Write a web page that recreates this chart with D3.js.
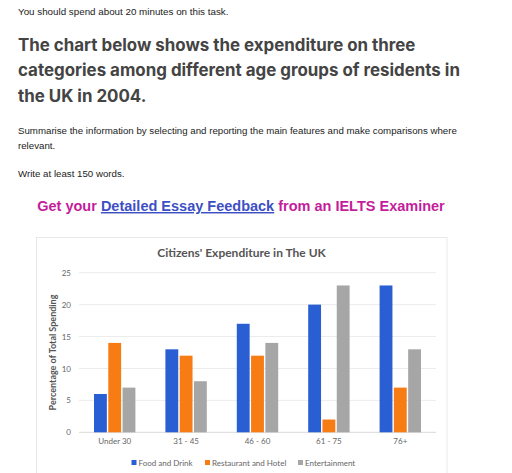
<!DOCTYPE html>
<html>
<head>
<meta charset="utf-8">
<script src="https://cdn.jsdelivr.net/npm/d3@7"></script>
<style>
  body { margin: 0; background: #fff; }
  svg { display: block; }
</style>
</head>
<body>
<svg id="page" width="512" height="473"></svg>
<script>
// chart values
const groups = ["Under 30", "31 - 45", "46 - 60", "61 - 75", "76+"];
const seriesNames = ["Food and Drink", "Restaurant and Hotel", "Entertainment"];
const foodDrink = [6, 13, 17, 20, 23];
const restaurantHotel = [14, 12, 12, 2, 7];
const entertainment = [7, 8, 14, 23, 13];
const yTicks = [0, 5, 10, 15, 20, 25];

const colors = ["#2a5fd4", "#f87c14", "#a6a6a6"];
const series = [foodDrink, restaurantHotel, entertainment];

const svg = d3.select("#page");

// ---- page text above the chart ----
const sans = "Liberation Sans, Arial, sans-serif";

svg.append("text")
  .attr("x", 18).attr("y", 14.5)
  .attr("font-family", sans).attr("font-size", 9.8).attr("fill", "#222")
  .text("You should spend about 20 minutes on this task.");

const heading = [
  "The chart below shows the expenditure on three",
  "categories among different age groups of residents in",
  "the UK in 2004."
];
svg.append("g").selectAll("text")
  .data(heading)
  .join("text")
  .attr("x", 18)
  .attr("y", (d, i) => 51 + i * 25.3)
  .attr("font-family", "Inter, Open Sans, sans-serif")
  .attr("font-weight", 700)
  .attr("font-size", 16.9)
  .attr("fill", "#444")
  .text(d => d);

svg.append("text")
  .attr("x", 18).attr("y", 133.5)
  .attr("font-family", sans).attr("font-size", 9.7).attr("fill", "#222")
  .text("Summarise the information by selecting and reporting the main features and make comparisons where");
svg.append("text")
  .attr("x", 18).attr("y", 148.5)
  .attr("font-family", sans).attr("font-size", 9.7).attr("fill", "#222")
  .text("relevant.");
svg.append("text")
  .attr("x", 18).attr("y", 177)
  .attr("font-family", sans).attr("font-size", 9.7).attr("fill", "#222")
  .text("Write at least 150 words.");

const promo = svg.append("text")
  .attr("x", 241).attr("y", 211)
  .attr("text-anchor", "middle")
  .attr("font-family", sans).attr("font-weight", 700).attr("font-size", 14.5)
  .attr("fill", "#c41d9c");
promo.append("tspan").text("Get your ");
promo.append("tspan").attr("fill", "#3d4fc4").attr("text-decoration", "underline")
  .text("Detailed Essay Feedback");
promo.append("tspan").text(" from an IELTS Examiner");

// ---- chart box ----
svg.append("rect")
  .attr("x", 36.5).attr("y", 237.5)
  .attr("width", 410.5).attr("height", 245)
  .attr("fill", "#fff").attr("stroke", "#e8e8e8");

const cal = "Lato, Open Sans, sans-serif";

svg.append("text")
  .attr("x", 241.5).attr("y", 257)
  .attr("text-anchor", "middle")
  .attr("font-family", cal).attr("font-weight", 700).attr("font-size", 12)
  .attr("fill", "#555")
  .text("Citizens' Expenditure in The UK");

const margin = {left: 79, right: 436, top: 272.7, bottom: 432.3};

const x0 = d3.scaleBand()
  .domain(groups)
  .range([margin.left, margin.right])
  .paddingInner(0.38)
  .paddingOuter(0.19);

const x1 = d3.scaleBand()
  .domain(d3.range(series.length))
  .range([0, x0.bandwidth()])
  .padding(0.1);

const y = d3.scaleLinear()
  .domain([0, 25])
  .range([margin.bottom, margin.top]);

// gridlines
svg.append("g").selectAll("line")
  .data(yTicks)
  .join("line")
  .attr("x1", margin.left).attr("x2", margin.right)
  .attr("y1", d => y(d)).attr("y2", d => y(d))
  .attr("stroke", d => d === 0 ? "#d9d9d9" : "#ececec")
  .attr("stroke-width", 1);

// y axis labels
const yAxis = svg.append("g")
  .attr("transform", `translate(${margin.left - 8},0)`)
  .call(d3.axisLeft(y).tickValues(yTicks).tickSize(0).tickPadding(0));
yAxis.select(".domain").remove();
yAxis.selectAll("text")
  .attr("font-family", cal).attr("font-size", 8).attr("fill", "#666");

svg.append("text")
  .attr("transform", `translate(56,${(margin.top + margin.bottom) / 2}) rotate(-90)`)
  .attr("text-anchor", "middle")
  .attr("font-family", cal).attr("font-weight", 700).attr("font-size", 9)
  .attr("fill", "#555")
  .text("Percentage of Total Spending");

// bars
svg.append("g").selectAll("g")
  .data(groups)
  .join("g")
  .attr("transform", d => `translate(${x0(d)},0)`)
  .selectAll("rect")
  .data((d, gi) => series.map((s, si) => ({si, v: s[gi]})))
  .join("rect")
  .attr("x", d => x1(d.si))
  .attr("y", d => y(d.v))
  .attr("width", x1.bandwidth())
  .attr("height", d => y(0) - y(d.v))
  .attr("fill", d => colors[d.si]);

// x axis labels
const xAxis = svg.append("g")
  .attr("transform", `translate(0,${margin.bottom + 6})`)
  .call(d3.axisBottom(x0).tickSize(0).tickPadding(0));
xAxis.select(".domain").remove();
xAxis.selectAll("text")
  .attr("font-family", cal).attr("font-size", 8).attr("fill", "#666");

// legend
const legendX = [131.5, 205, 298];
const legend = svg.append("g").selectAll("g")
  .data(seriesNames)
  .join("g")
  .attr("transform", (d, i) => `translate(${legendX[i]},462.5)`);
legend.append("rect")
  .attr("x", 0).attr("y", -2.5)
  .attr("width", 5).attr("height", 5)
  .attr("fill", (d, i) => colors[i]);
legend.append("text")
  .attr("x", 7).attr("y", 3)
  .attr("font-family", cal).attr("font-size", 8).attr("fill", "#666")
  .text(d => d);
</script>
</body>
</html>
